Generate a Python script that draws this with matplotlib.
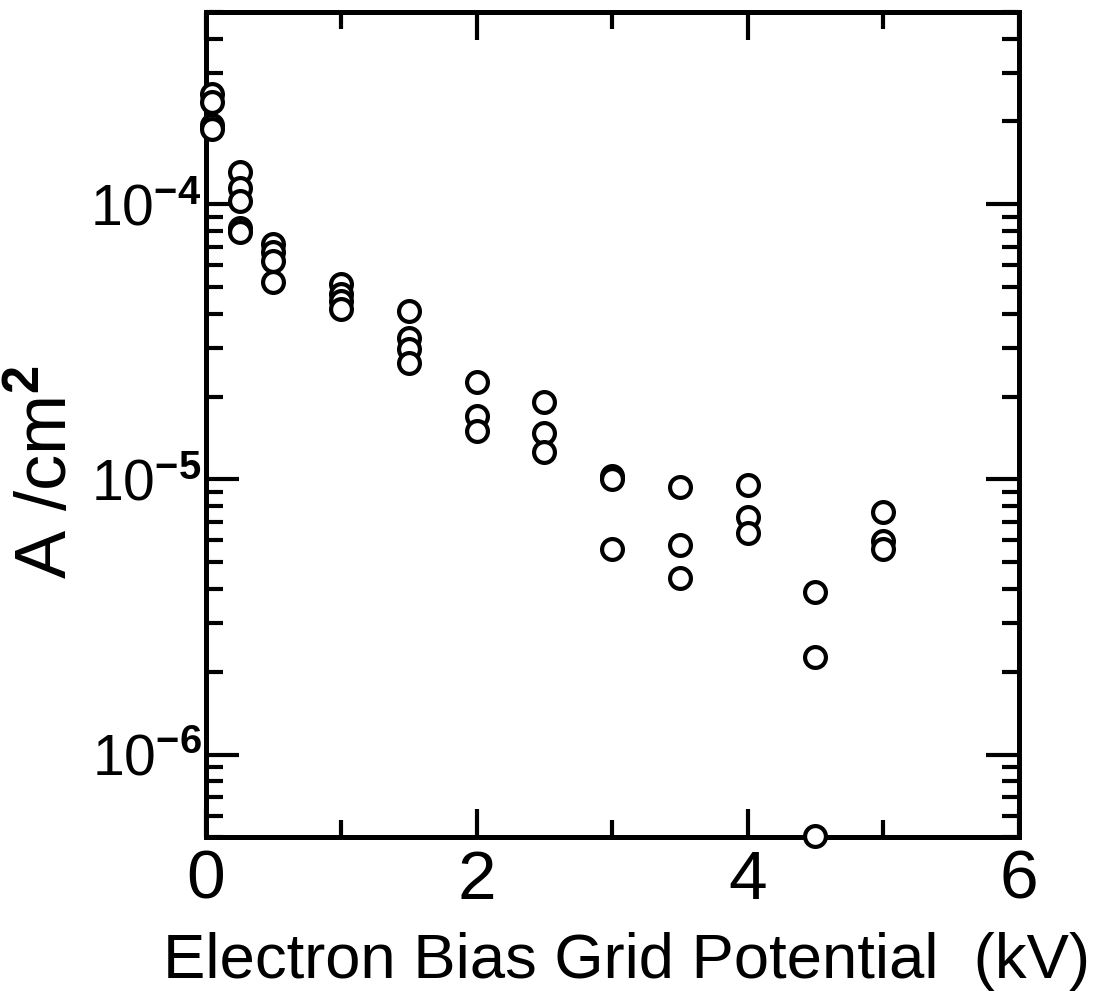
import matplotlib
matplotlib.use("Agg")
import matplotlib.pyplot as plt
from matplotlib.ticker import LogLocator, FixedLocator, NullFormatter, FuncFormatter
import math

# ---- data ----
bias_kV = [0.05, 0.25, 0.5, 1.0, 1.5, 2.0, 2.5, 3.0, 3.5, 4.0, 4.5, 5.0]
current_density = [
    [2.51e-4, 2.35e-4, 1.94e-4, 1.87e-4],
    [1.31e-4, 1.15e-4, 1.03e-4, 8.2e-5, 7.9e-5],
    [7.16e-5, 6.70e-5, 6.21e-5, 5.21e-5],
    [5.13e-5, 4.71e-5, 4.44e-5, 4.16e-5],
    [4.09e-5, 3.26e-5, 2.98e-5, 2.65e-5],
    [2.26e-5, 1.70e-5, 1.50e-5],
    [1.91e-5, 1.48e-5, 1.26e-5],
    [1.03e-5, 1.00e-5, 5.59e-6],
    [9.39e-6, 5.78e-6, 4.39e-6],
    [9.55e-6, 7.31e-6, 6.39e-6],
    [3.91e-6, 2.27e-6, 5.05e-7],
    [7.62e-6, 5.98e-6, 5.59e-6],
]
x_major = [0, 2, 4, 6]
x_minor = [1, 3, 5]
xlabel = "Electron Bias Grid Potential  (kV)"
ylabel = "A /cm$^{\\mathbf{2}}$"

fams = ['Liberation Sans', 'DejaVu Sans']
plt.rcParams['font.family'] = fams
plt.rcParams['mathtext.fontset'] = 'custom'
plt.rcParams['mathtext.rm'] = 'Liberation Sans'
plt.rcParams['mathtext.bf'] = 'Liberation Sans:bold'

fig = plt.figure(figsize=(10.94, 9.91), dpi=100)
ax = fig.add_axes([0.188, 0.155, 0.743, 0.833])

for xv, ys in zip(bias_kV, current_density):
    ax.plot([xv] * len(ys), ys, 'o', ms=15, mew=3.0, mfc='white', mec='black',
            clip_on=False, zorder=5, linestyle='none')

ax.set_yscale('log')
ax.set_xlim(0, 6)
ax.set_ylim(5e-7, 5e-4)

ax.xaxis.set_major_locator(FixedLocator(x_major))
ax.xaxis.set_minor_locator(FixedLocator(x_minor))
ax.xaxis.set_minor_formatter(NullFormatter())
ax.set_xticklabels([str(v) for v in x_major])
ax.yaxis.set_major_locator(LogLocator(base=10, numticks=10))
ax.yaxis.set_minor_locator(LogLocator(base=10, subs=range(2, 10), numticks=20))
ax.yaxis.set_minor_formatter(NullFormatter())
ax.yaxis.set_major_formatter(FuncFormatter(
    lambda v, p: "$10^{\\mathbf{%d}}$" % round(math.log10(v))))

for s in ax.spines.values():
    s.set_linewidth(3.6)

ax.tick_params(axis='both', which='both', direction='in', top=True, right=True,
               width=3.0, colors='black')
ax.tick_params(axis='y', which='major', length=24, pad=3, labelsize=41)
ax.tick_params(axis='y', which='minor', length=12)
ax.tick_params(axis='x', which='major', length=20, pad=8, labelsize=50)
ax.tick_params(axis='x', which='minor', length=12)

xl = ax.set_xlabel(xlabel, fontsize=44)
ax.xaxis.set_label_coords(0.518, -0.114)
fig.text(47 / 1094, 1 - 472 / 991, ylabel, rotation=90, ha='center', va='center',
         fontsize=52)

# fit x label width to reference (~928 px)
fig.canvas.draw()
r = fig.canvas.get_renderer()
w = xl.get_window_extent(r).width
xl.set_fontsize(44 * 928.0 / w)

fig.savefig("out.png", dpi=100)
